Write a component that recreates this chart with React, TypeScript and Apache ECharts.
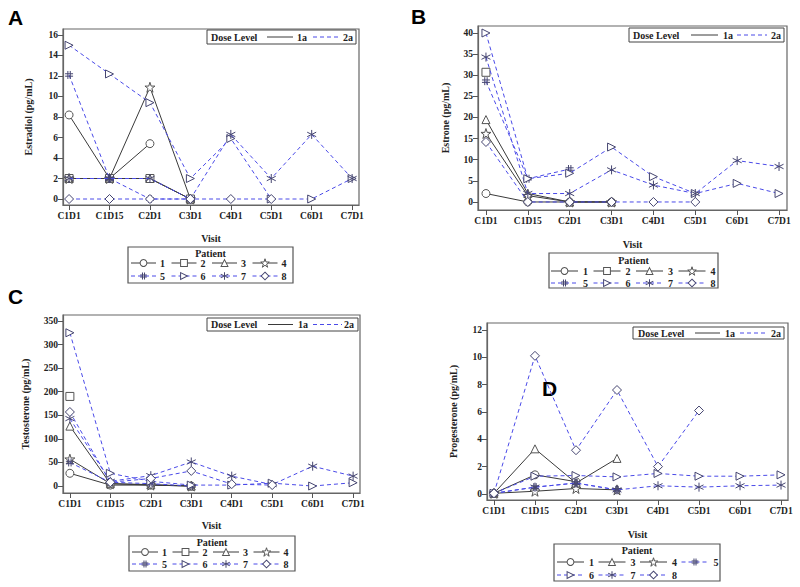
import React, { useEffect, useRef } from 'react';
import * as echarts from 'echarts';

const visits = ['C1D1', 'C1D15', 'C2D1', 'C3D1', 'C4D1', 'C5D1', 'C6D1', 'C7D1'];
const patients = ['1', '2', '3', '4', '5', '6', '7', '8'];
const doseLevels = ['1a', '1a', '1a', '1a', '2a', '2a', '2a', '2a'];

// values per patient (1..8) across visits; null = no sample
const estradiol = [
  [8.2, 2, 5.4, null, null, null, null, null],
  [2, 2, 2, 0, null, null, null, null],
  [2, 2, 2, 0, null, null, null, null],
  [2, 2, 10.9, 0, null, null, null, null],
  [12.1, 2, 0, 0, null, null, null, null],
  [15, 12.2, 9.4, 2, 5.9, 0, 0, 2],
  [2, 2, 2, 0, 6.3, 2, 6.3, 2],
  [0, 0, 0, 0, 0, 0, null, null],
];
const estrone = [
  [2, 0, 0, 0, null, null, null, null],
  [30.7, null, null, null, null, null, null, null],
  [19.5, 2, 0, 0, null, null, null, null],
  [16.2, 1.5, 0, 0, null, null, null, null],
  [28.6, 5.5, 7.8, null, null, null, null, null],
  [40, 5.5, 6.8, 13, 6, 2, 4.4, 2],
  [34.3, 2, 2, 7.6, 4, 2, 9.8, 8.4],
  [14.2, 0, 0, 0, 0, 0, null, null],
];
const testosterone = [
  [27, 2, 2, 0, null, null, null, null],
  [190, null, null, null, null, null, null, null],
  [127, 5, 3, 0, null, null, null, null],
  [57, 5, 2, 0, null, null, null, null],
  [50, 8, 5, 0, null, null, null, null],
  [325, 27, 10, 2, 2, 6, 0, 7],
  [143, 10, 22, 51, 21, 3, 42, 21],
  [157, 8, 16, 32, 4, 2, null, null],
];
const progesterone = [
  [0.05, 1.4, 0.9, null, null, null, null, null],
  [null, null, null, null, null, null, null, null],
  [0.05, 3.3, 0.8, 2.6, null, null, null, null],
  [0.05, 0.2, 0.4, 0.3, null, null, null, null],
  [0.05, 0.5, 0.8, 0.3, null, null, null, null],
  [0.05, 1.3, 1.35, 1.25, 1.5, 1.3, 1.3, 1.4],
  [0.05, 0.5, 0.8, 0.3, 0.6, 0.5, 0.6, 0.65],
  [0.05, 10.1, 3.2, 7.6, 2.0, 6.1, null, null],
];

const estradiolTicks = [0, 2, 4, 6, 8, 10, 12, 14, 16];
const estroneTicks = [0, 5, 10, 15, 20, 25, 30, 35, 40];
const testosteroneTicks = [0, 50, 100, 150, 200, 250, 300, 350];
const progesteroneTicks = [0, 2, 4, 6, 8, 10, 12];

const SYM_STAR = 'path://M50,0 L61.8,35.4 L98.9,35.4 L69,57.3 L80.3,92.7 L50,70.8 L19.7,92.7 L31,57.3 L1.1,35.4 L38.2,35.4 Z';
const SYM_HASH = 'path://M35,0 L35,100 M65,0 L65,100 M0,35 L100,35 M0,65 L100,65';
const SYM_RTRI = 'path://M0,0 L100,50 L0,100 Z';
const SYM_ASTER = 'path://M50,0 L50,100 M7,25 L93,75 M7,75 L93,25';
const symbols = ['circle', 'rect', 'triangle', SYM_STAR, SYM_HASH, SYM_RTRI, SYM_ASTER, 'diamond'];
const symbolSizes = [8, 8, 8, 10, 8, 8, 9, 9];

const SERIF = 'Liberation Serif';
const SANS = 'Liberation Sans';

const panels = [
  {
    letter: 'A', letterX: 8, letterY: 17, title: 'Estradiol (pg/mL)', values: estradiol, ticks: estradiolTicks,
    grid: { left: 63, top: 29, width: 296, height: 176 }, xMin: -0.15, xMax: 7.17, yMin: -0.585, yMax: 16.585,
    yNameGap: 30, xNameGap: 28,
    dose: { x: 207, y: 30, w: 149, h: 14, text: 211, s1: 267, s2: 293, l1: 297, d1: 313, d2: 341, l2: 343 },
    pat: { x: 128, y: 247, w: 165, h: 36, titleY: 253, start: 131, spacing: 40.5, lineW: 25, textOff: 29, rows: [263, 276], perRow: 4 },
    legendIdx: [0, 1, 2, 3, 4, 5, 6, 7],
  },
  {
    letter: 'B', letterX: 411, letterY: 16, title: 'Estrone (pg/mL)', values: estrone, ticks: estroneTicks,
    grid: { left: 478, top: 26, width: 309, height: 184 }, xMin: -0.19, xMax: 7.19, yMin: -1.9, yMax: 41.66,
    yNameGap: 28, xNameGap: 29,
    dose: { x: 629, y: 28, w: 155, h: 14, text: 633, s1: 691, s2: 718, l1: 723, d1: 737, d2: 767, l2: 771 },
    pat: { x: 549, y: 253, w: 169, h: 35, titleY: 260, start: 551, spacing: 42.5, lineW: 27, textOff: 32, rows: [271, 283], perRow: 4 },
    legendIdx: [0, 1, 2, 3, 4, 5, 6, 7],
  },
  {
    letter: 'C', letterX: 8, letterY: 296, title: 'Testosterone (pg/mL)', values: testosterone, ticks: testosteroneTicks,
    grid: { left: 63, top: 315, width: 297, height: 178 }, xMin: -0.17, xMax: 7.17, yMin: -14.8, yMax: 362.7,
    yNameGap: 33, xNameGap: 27,
    dose: { x: 207, y: 318, w: 151, h: 13, text: 211, s1: 268, s2: 293, l1: 298, d1: 313, d2: 342, l2: 344 },
    pat: { x: 129, y: 536, w: 166, h: 35, titleY: 542, start: 132, spacing: 40.5, lineW: 26, textOff: 30, rows: [552, 564], perRow: 4 },
    legendIdx: [0, 1, 2, 3, 4, 5, 6, 7],
  },
  {
    letter: 'D', letterX: 542, letterY: 388, title: 'Progesterone (pg/mL)', values: progesterone, ticks: progesteroneTicks,
    grid: { left: 487, top: 323, width: 301, height: 177 }, xMin: -0.17, xMax: 7.17, yMin: -0.44, yMax: 12.5,
    yNameGap: 29, xNameGap: 29,
    dose: { x: 633, y: 327, w: 151, h: 12, text: 638, s1: 695, s2: 720, l1: 725, d1: 740, d2: 768, l2: 771 },
    pat: { x: 554, y: 544, w: 166, h: 37, titleY: 550, start: 557, spacing: 41.5, lineW: 27, textOff: 32, rows: [562, 575], perRow: 4 },
    legendIdx: [0, 2, 3, 4, 5, 6, 7],
  },
];

const COLOR_1A = '#3a3a3a';
const COLOR_2A = '#4a4ae8';
const MARK_1A = '#555';
const MARK_2A = '#454570';

function buildOption() {
  const grids: any[] = [];
  const xAxes: any[] = [];
  const yAxes: any[] = [];
  const series: any[] = [];
  const graphics: any[] = [];
  const labelStyle = { fontFamily: SERIF, fontWeight: 'bold', fontSize: 9.5, color: '#222' };

  panels.forEach((p, pi) => {
    grids.push({ ...p.grid, show: true, borderColor: '#666', borderWidth: 1.2, backgroundColor: 'transparent' });
    const tickIdx = visits.map((_, i) => i);
    xAxes.push({
      type: 'value', gridIndex: pi, min: p.xMin, max: p.xMax,
      splitLine: { show: false },
      axisLine: { show: true, onZero: false, lineStyle: { color: '#666', width: 1.2 } },
      axisTick: { show: true, customValues: tickIdx, length: 5, lineStyle: { color: '#555' } },
      axisLabel: { ...labelStyle, customValues: tickIdx, margin: 6, formatter: (v: number) => visits[Math.round(v)] },
      name: 'Visit', nameLocation: 'middle', nameGap: p.xNameGap, nameTextStyle: { ...labelStyle, fontSize: 10 },
    });
    yAxes.push({
      type: 'value', gridIndex: pi, min: p.yMin, max: p.yMax,
      splitLine: { show: false },
      axisLine: { show: true, onZero: false, lineStyle: { color: '#666', width: 1.2 } },
      axisTick: { show: true, customValues: p.ticks, length: 5, lineStyle: { color: '#555' } },
      axisLabel: { ...labelStyle, customValues: p.ticks, margin: 5 },
      name: p.title, nameLocation: 'middle', nameRotate: 90, nameGap: p.yNameGap, nameTextStyle: { ...labelStyle, fontSize: 10 },
    });
    patients.forEach((name, j) => {
      const vals = p.values[j];
      const data: any[] = [];
      vals.forEach((v, k) => { if (v !== null && v !== undefined) data.push([k, v]); });
      if (!data.length) return;
      const is1a = doseLevels[j] === '1a';
      series.push({
        type: 'line', name, xAxisIndex: pi, yAxisIndex: pi, data,
        symbol: symbols[j], symbolSize: symbolSizes[j], showSymbol: true,
        lineStyle: { color: is1a ? COLOR_1A : COLOR_2A, width: 1, type: is1a ? 'solid' : [4, 3] },
        itemStyle: { color: '#fff', borderColor: is1a ? MARK_1A : MARK_2A, borderWidth: 1 },
        z: is1a ? 2 : 3,
      });
    });
    // panel letter
    graphics.push({ type: 'text', x: p.letterX, y: p.letterY, style: { text: p.letter, font: `bold 21px "${SANS}"`, fill: '#000', verticalAlign: 'middle' } });
    // dose level legend
    const d = p.dose;
    const cy = d.y + d.h / 2;
    graphics.push({ type: 'rect', shape: { x: d.x, y: d.y, width: d.w, height: d.h }, style: { fill: '#fff', stroke: '#444', lineWidth: 1 }, z: 10 });
    graphics.push({ type: 'text', x: d.text, y: cy, style: { text: 'Dose Level', font: `bold 10px "${SERIF}"`, fill: '#222', verticalAlign: 'middle' }, z: 11 });
    graphics.push({ type: 'line', shape: { x1: d.s1, y1: cy, x2: d.s2, y2: cy }, style: { stroke: COLOR_1A, lineWidth: 1 }, z: 11 });
    graphics.push({ type: 'text', x: d.l1, y: cy, style: { text: '1a', font: `bold 10px "${SERIF}"`, fill: '#222', verticalAlign: 'middle' }, z: 11 });
    graphics.push({ type: 'line', shape: { x1: d.d1, y1: cy, x2: d.d2, y2: cy }, style: { stroke: COLOR_2A, lineWidth: 1, lineDash: [4, 3] }, z: 11 });
    graphics.push({ type: 'text', x: d.l2, y: cy, style: { text: '2a', font: `bold 10px "${SERIF}"`, fill: '#222', verticalAlign: 'middle' }, z: 11 });
    // patient legend box
    const pt = p.pat;
    graphics.push({ type: 'rect', shape: { x: pt.x, y: pt.y, width: pt.w, height: pt.h }, style: { fill: 'none', stroke: '#555', lineWidth: 1.2 }, z: 0 });
    graphics.push({ type: 'text', x: pt.x + pt.w / 2, y: pt.titleY, style: { text: 'Patient', font: `bold 10px "${SERIF}"`, fill: '#222', align: 'center', verticalAlign: 'middle' } });
    p.legendIdx.forEach((j, n) => {
      const row = Math.floor(n / pt.perRow);
      const col = n % pt.perRow;
      const x0 = pt.start + col * pt.spacing;
      const y = pt.rows[row];
      const is1a = doseLevels[j] === '1a';
      series.push({
        type: 'line', name: 'legend-' + pi + '-' + j, xAxisIndex: 4, yAxisIndex: 4,
        data: [
          { value: [x0, y], symbol: 'none' },
          { value: [x0 + pt.lineW / 2, y] },
          { value: [x0 + pt.lineW, y], symbol: 'none' },
        ],
        symbol: symbols[j], symbolSize: symbolSizes[j] * 0.85, showSymbol: true, silent: true,
        lineStyle: { color: is1a ? COLOR_1A : COLOR_2A, width: 1, type: is1a ? 'solid' : [4, 3] },
        itemStyle: { color: '#fff', borderColor: is1a ? MARK_1A : MARK_2A, borderWidth: 1 },
        z: 5,
      });
      graphics.push({ type: 'text', x: x0 + pt.textOff, y, style: { text: patients[j], font: `bold 10px "${SERIF}"`, fill: '#222', verticalAlign: 'middle' } });
    });
  });

  // overlay coordinate system in page pixels for the patient legends
  grids.push({ left: 0, top: 0, width: 800, height: 587, show: false });
  xAxes.push({ type: 'value', gridIndex: 4, min: 0, max: 800, show: false });
  yAxes.push({ type: 'value', gridIndex: 4, min: 0, max: 587, inverse: true, show: false });

  return {
    animation: false,
    backgroundColor: '#fff',
    grid: grids, xAxis: xAxes, yAxis: yAxes, series, graphic: graphics,
  };
}

export default function App() {
  const ref = useRef<HTMLDivElement>(null);
  useEffect(() => {
    if (!ref.current) return;
    const chart = echarts.init(ref.current, undefined, { renderer: 'svg' });
    chart.setOption(buildOption() as any);
    return () => chart.dispose();
  }, []);
  return <div ref={ref} style={{ position: 'absolute', left: 0, top: 0, width: 800, height: 587 }} />;
}
